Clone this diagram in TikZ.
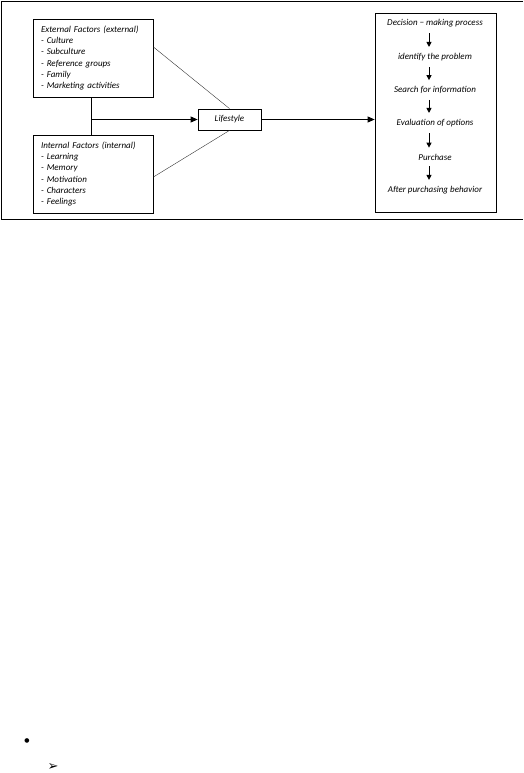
\documentclass[tikz,border=0pt]{standalone}
\usepackage{fontspec}
\setmainfont{Carlito}
\newfontfamily\symfont{DejaVu Sans}
\usetikzlibrary{positioning,arrows.meta}

\begin{document}
\begin{tikzpicture}[x=1pt,y=-1pt,
  every node/.style={font=\fontsize{9}{11.2}\selectfont\itshape},
  factorbox/.style={draw,line width=0.8pt,minimum width=120pt,minimum height=78pt,text width=104pt,inner xsep=8pt,align=left},
  stepnode/.style={inner sep=0pt},
  arr/.style={-{Triangle[length=7pt,width=6pt]},line width=0.8pt},
  steparr/.style={-{Triangle[length=5pt,width=5pt]},line width=0.9pt,shorten <=6pt,shorten >=6pt},
  thinline/.style={line width=0.4pt,black!80}]
  \useasboundingbox (0,0) rectangle (523,773);
  \draw[line width=0.8pt] (523,1) -- (1,1) -- (1,219) -- (523,219);
  \node[factorbox] (ext) at (93,58) {External Factors (external)\\- Culture\\- Subculture\\- Reference groups\\- Family\\- Marketing activities};
  \node[factorbox] (int) at (93,174) {Internal Factors (internal)\\- Learning\\- Memory\\- Motivation\\- Characters\\- Feelings};
  \node[draw,line width=0.8pt,minimum width=63pt,minimum height=21pt] (life) at (229.5,119.5) {Lifestyle};
  \node[draw,line width=0.8pt,minimum width=121pt,minimum height=199pt] (dec) at (435.5,112.5) {};
  \draw[line width=0.8pt] ([xshift=-2pt]ext.south) -- ([xshift=-2pt]int.north);
  \coordinate (fork) at (92,119.5);
  \draw[arr] (fork) -- (life.west);
  \draw[thinline] ([yshift=11pt]ext.east) -- (life.north);
  \draw[thinline] ([yshift=-3pt]int.east) -- (life.south);
  \draw[arr] (life.east) -- (life.east -| dec.west);
  \node[stepnode] (s1) at (435,23) {Decision − making process};
  \node[stepnode] (s2) at (435,57) {identify the problem};
  \node[stepnode] (s3) at (435,90) {Search for information};
  \node[stepnode] (s4) at (435,123) {Evaluation of options};
  \node[stepnode] (s5) at (435,157) {Purchase};
  \node[stepnode] (s6) at (435,190) {After purchasing behavior};
  \foreach \a/\b in {s1/s2,s2/s3,s3/s4,s4/s5,s5/s6}
    \draw[steparr] ([xshift=-6pt]\a.south) -- ([xshift=-6pt]\b.north);
  \node[font=\symfont\fontsize{6}{6}\selectfont] (dot) at (27,741) {●};
  \node[font=\symfont\fontsize{13}{13}\selectfont] (tip) at (53,767) {➢};
\end{tikzpicture}
\end{document}
